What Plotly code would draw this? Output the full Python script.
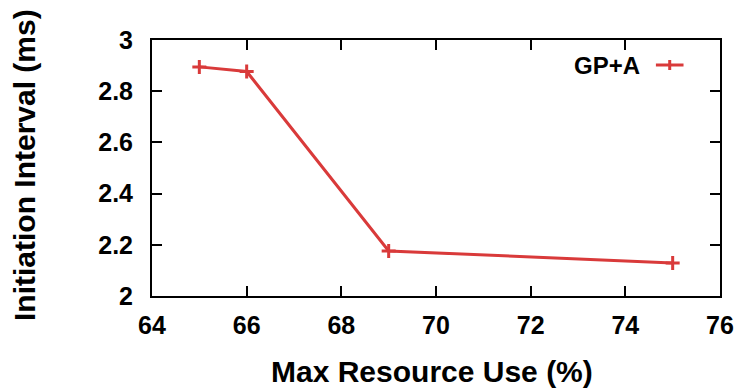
import plotly.graph_objects as go

# Measured initiation interval against the resource cap
resource_use = [65, 66, 69, 75]          # Max Resource Use (%)
init_interval = [2.895, 2.877, 2.176, 2.129]  # Initiation Interval (ms)
series_name = "GP+A"

x_ticks = [64, 66, 68, 70, 72, 74, 76]
y_ticks = [2, 2.2, 2.4, 2.6, 2.8, 3]

RED = "#d93a3a"
FONT = "Liberation Sans"

fig = go.Figure()
fig.add_trace(go.Scatter(
    x=resource_use, y=init_interval, mode="lines+markers", name=series_name,
    line=dict(color=RED, width=3),
    marker=dict(symbol="cross-thin", size=10, line=dict(color=RED, width=3)),
    showlegend=False,
))

axis_common = dict(
    showline=True, linecolor="black", linewidth=2, mirror="ticks",
    ticks="inside", ticklen=10, tickwidth=1.5, tickcolor="black",
    showgrid=False, zeroline=False,
    tickfont=dict(family=FONT, size=25, color="black", weight="bold"),
)

fig.update_xaxes(range=[64, 76], tickvals=x_ticks, ticktext=[str(v) for v in x_ticks],
                 ticklabelstandoff=6, **axis_common)
fig.update_yaxes(range=[2, 3], tickvals=y_ticks, ticktext=[f"{v:g}" for v in y_ticks],
                 ticklabelstandoff=12, **axis_common)

title_font = dict(family=FONT, size=30, color="black", weight="bold")
fig.add_annotation(text="Max Resource Use (%)", xref="paper", yref="paper",
                   x=0.5, y=0, xanchor="center", yanchor="middle",
                   xshift=-4, yshift=-75, showarrow=False, font=title_font)
fig.add_annotation(text="Initiation Interval (ms)", xref="paper", yref="paper",
                   x=0, y=0.5, xanchor="center", yanchor="middle", textangle=-90,
                   xshift=-128, yshift=3, showarrow=False, font=title_font)

# Key: label on the left, line sample with marker on the right
fig.add_annotation(text=series_name, xref="paper", yref="paper",
                   x=(649 - 152) / 576, y=1 - (65 - 40) / 256,
                   xanchor="right", yanchor="middle", showarrow=False,
                   font=dict(family=FONT, size=24, color="black", weight="bold"))
kx0, kx1, ky = (663 - 152) / 576, (691 - 152) / 576, 1 - (65 - 40) / 256
fig.add_shape(type="line", xref="paper", yref="paper", x0=kx0, x1=kx1, y0=ky, y1=ky,
              line=dict(color=RED, width=3))
kxm = (kx0 + kx1) / 2
fig.add_shape(type="line", xref="paper", yref="paper", x0=kxm, x1=kxm,
              y0=ky - 5 / 256, y1=ky + 5 / 256, line=dict(color=RED, width=3))

fig.update_layout(
    width=746, height=392,
    margin=dict(l=152, r=18, t=40, b=96),
    plot_bgcolor="white", paper_bgcolor="white",
)

fig.write_html("out.html")
